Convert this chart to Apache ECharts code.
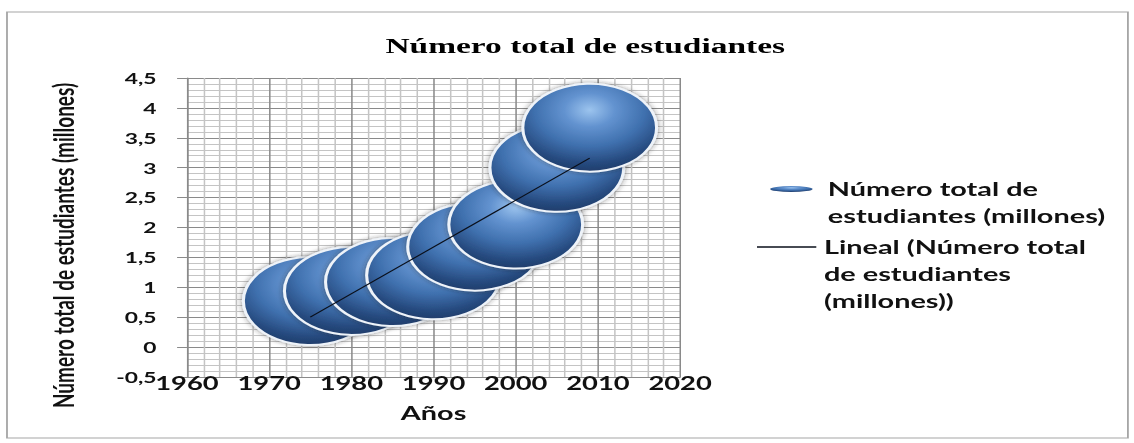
<!DOCTYPE html>
<html><head><meta charset="utf-8">
<script src="https://cdn.jsdelivr.net/npm/echarts@6/dist/echarts.min.js"></script>
<style>
html,body{margin:0;padding:0;width:1134px;height:443px;overflow:hidden;background:#fff;}
#chart{width:746px;height:443px;transform:scaleX(1.5201);transform-origin:0 0;}
</style></head><body><div id="chart"></div>
<script>
// ---- data ----
const years = [1975, 1980, 1985, 1990, 1995, 2000, 2005, 2009];
const students = [0.77, 0.94, 1.09, 1.2, 1.68, 2.05, 3.0, 3.67];
const trendYears = [1975, 2009];
const trendValues = [0.5, 3.16];
const xTicks = [1960, 1970, 1980, 1990, 2000, 2010, 2020];
const yTicks = [-0.5, 0, 0.5, 1, 1.5, 2, 2.5, 3, 3.5, 4, 4.5];
const titleText = 'Número total de estudiantes';
const xTitle = 'Años';
const yTitle = 'Número total de estudiantes (millones)';
const seriesName = 'Número total de estudiantes (millones)';
const trendName = 'Lineal (Número total de estudiantes (millones))';
const seriesLegendLines = ['Número total de', 'estudiantes (millones)'];
const trendLegendLines = ['Lineal (Número total', 'de estudiantes', '(millones))'];

// blank lines on top so that the icon sits beside the first text line
const firstLineAligned = lines => '\n'.repeat(lines.length - 1) + lines.join('\n');

const chart = echarts.init(document.getElementById('chart'), null, {renderer: 'svg'});
const bubbleColor = {
  type: 'radial', x: 0.5, y: 0.3, r: 0.75,
  colorStops: [
    {offset: 0, color: '#9cc4ee'},
    {offset: 0.25, color: '#6393d0'},
    {offset: 0.55, color: '#3f70ae'},
    {offset: 0.82, color: '#25487c'},
    {offset: 1, color: '#1d3862'}
  ]
};
const LF = 'Lato, "Open Sans", sans-serif';
chart.setOption({
  animation: false,
  title: {
    text: titleText, left: 380, top: 30, textAlign: 'center',
    textStyle: {fontFamily: '"Liberation Serif", serif', fontWeight: 'bold', fontSize: 22, color: '#000'}
  },
  graphic: [{
    type: 'rect', shape: {x: 4.6, y: 12, width: 737.4, height: 426},
    style: {fill: 'none', stroke: '#a6a6a6', lineWidth: 1.2}, silent: true
  }],
  legend: [{
    data: [seriesName], left: 506.6, top: 148.5, padding: 0,
    itemWidth: 38, itemHeight: 6,
    icon: 'path://M0,30A140,30,0,1,1,280,30A140,30,0,1,1,0,30Z',
    itemStyle: {borderWidth: 0, shadowBlur: 0},
    formatter: () => firstLineAligned(seriesLegendLines),
    textStyle: {fontFamily: LF, fontWeight: 'bold', fontSize: 19, lineHeight: 27, color: '#111'}
  }, {
    data: [{name: trendName, icon: 'rect'}], left: 498, top: 179.5, padding: 0,
    itemWidth: 39, itemHeight: 1.3,
    itemStyle: {color: '#0a0f1a'},
    formatter: () => firstLineAligned(trendLegendLines),
    textStyle: {fontFamily: LF, fontWeight: 'bold', fontSize: 19, lineHeight: 27, color: '#111'}
  }],
  grid: {left: 123, right: 298.6, top: 78, bottom: 66, containLabel: false},
  xAxis: {
    type: 'value', min: xTicks[0], max: xTicks[xTicks.length - 1], interval: 10,
    name: xTitle, nameLocation: 'middle', nameGap: 26,
    nameTextStyle: {fontFamily: LF, fontWeight: 'bold', fontSize: 19, color: '#111'},
    axisLine: {show: true, onZero: false, lineStyle: {color: '#8a8a8a', width: 1}},
    axisTick: {show: false},
    axisLabel: {margin: -3, fontFamily: LF, fontWeight: 'bold', fontSize: 18, color: '#111',
      formatter: v => String(v)},
    splitLine: {show: true, lineStyle: {color: '#8a8a8a', width: 1}},
    minorTick: {show: false, splitNumber: 5},
    minorSplitLine: {show: true, lineStyle: {color: '#c4c4c4', width: 1}}
  },
  yAxis: {
    type: 'value', min: yTicks[0], max: yTicks[yTicks.length - 1], interval: 0.5,
    name: yTitle, nameLocation: 'middle', nameRotate: 90, nameGap: 72,
    nameTextStyle: {fontFamily: '"Liberation Sans Narrow", Lato, sans-serif', fontWeight: 'bold', fontSize: 19, color: '#111', padding: [0, 36, 0, 0]},
    axisLine: {show: true, onZero: false, lineStyle: {color: '#8a8a8a', width: 1}},
    axisTick: {show: true, length: 6.5, lineStyle: {color: '#8a8a8a'}},
    axisLabel: {margin: 20, fontFamily: LF, fontWeight: 'bold', fontSize: 15, color: '#111',
      formatter: v => String(v).replace('.', ',')},
    splitLine: {show: true, lineStyle: {color: '#8a8a8a', width: 1}},
    minorTick: {show: false, splitNumber: 5},
    minorSplitLine: {show: true, lineStyle: {color: '#c4c4c4', width: 1}}
  },
  series: [{
    name: seriesName, type: 'scatter', z: 2,
    symbol: 'circle', symbolSize: 88,
    data: years.map((y, i) => [y, students[i]]),
    itemStyle: {color: bubbleColor, opacity: 1, borderColor: '#eef3f9', borderWidth: 2,
      shadowBlur: 4, shadowColor: 'rgba(40,40,40,0.55)'},
    emphasis: {disabled: true}
  }, {
    name: trendName, type: 'line', z: 5, symbol: 'none',
    data: trendYears.map((y, i) => [y, trendValues[i]]),
    lineStyle: {color: '#0a0f1a', width: 1},
    itemStyle: {color: '#0a0f1a'}
  }]
});
</script></body></html>
